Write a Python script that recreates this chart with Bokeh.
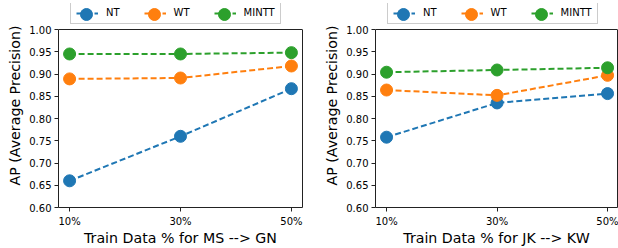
from bokeh.plotting import figure
from bokeh.layouts import row
from bokeh.models import Range1d, FixedTicker, Legend, LegendItem, LinearAxis, Span
from bokeh.embed import file_html
from bokeh.resources import INLINE

x_labels = ["10%", "30%", "50%"]
series = ["NT", "WT", "MINTT"]
colors = ["#1f77b4", "#ff7f0e", "#2ca02c"]
y_ticks = [0.60, 0.65, 0.70, 0.75, 0.80, 0.85, 0.90, 0.95, 1.00]
Y_MIN, Y_MAX = 0.60, 1.00

left_nt = [0.660, 0.760, 0.867]
left_wt = [0.889, 0.891, 0.918]
left_mintt = [0.945, 0.945, 0.948]

right_nt = [0.758, 0.835, 0.856]
right_wt = [0.864, 0.852, 0.897]
right_mintt = [0.904, 0.909, 0.914]

FONT = "DejaVu Sans"
AXC = "#222222"
FIG_H = 248
TOP, BOTTOM = 3, 41
PLOT_H = 178                      # pixel height of the 0.60-1.00 box
FRAME_H = FIG_H - TOP - BOTTOM    # frame also holds the legend strip
Y_TOP = Y_MIN + (Y_MAX - Y_MIN) * FRAME_H / PLOT_H
LEG_X = 12
LEG_BOTTOM = PLOT_H + 5
LEG_H = 20
GLYPH_CX = [16, 83.6, 153.6]      # legend glyph centres, from legend's left edge


def make_plot(values, xlabel, width, border_left, border_right, x_end):
    xs = list(range(len(x_labels)))
    p = figure(width=width, height=FIG_H, output_backend="svg", toolbar_location=None,
               x_range=Range1d(-0.1, x_end), y_range=Range1d(Y_MIN, Y_TOP),
               min_border_left=border_left, min_border_right=border_right,
               min_border_top=TOP, min_border_bottom=BOTTOM)
    p.outline_line_color = None
    p.xgrid.visible = False
    p.ygrid.visible = False
    p.background_fill_color = "white"
    p.border_fill_color = "white"

    items = []
    scatters = []
    for name, vals, col in zip(series, values, colors):
        l = p.line(xs, vals, line_color=col, line_width=2, line_dash="6 3")
        s = p.scatter(xs, vals, size=12, fill_color=col, line_color=col, marker="circle")
        items.append(LegendItem(label=name, renderers=[l]))
        scatters.append(s)

    # box edges: top span at 1.00 and a bare right axis
    p.add_layout(Span(location=Y_MAX, dimension="width", line_color=AXC, line_width=1))
    rax = LinearAxis(bounds=(Y_MIN, Y_MAX), ticker=FixedTicker(ticks=[]),
                     axis_line_color=AXC, major_tick_line_color=None,
                     minor_tick_line_color=None, major_label_text_font_size="0px")
    p.add_layout(rax, "right")

    p.xaxis[0].ticker = FixedTicker(ticks=xs)
    p.xaxis[0].major_label_overrides = {i: t for i, t in enumerate(x_labels)}
    yax = p.yaxis[0]
    yax.ticker = FixedTicker(ticks=y_ticks)
    yax.major_label_overrides = {t: f"{t:.2f}" for t in y_ticks}
    yax.bounds = (Y_MIN, Y_MAX)
    for ax in (p.xaxis[0], yax):
        ax.axis_line_color = AXC
        ax.major_tick_line_color = AXC
        ax.major_tick_in = 0
        ax.major_tick_out = 4
        ax.minor_tick_line_color = None
        ax.major_label_text_font = FONT
        ax.major_label_text_font_size = "10px"
        ax.major_label_text_color = "black"
        ax.axis_label_text_font = FONT
        ax.axis_label_text_font_size = "14.2px"
        ax.axis_label_text_font_style = "normal"
        ax.axis_label_text_color = "black"
        ax.major_label_standoff = 3
    p.xaxis[0].major_label_standoff = 4
    p.xaxis[0].axis_label = xlabel
    p.xaxis[0].axis_label_standoff = 0
    yax.axis_label = "AP (Average Precision)"
    yax.axis_label_standoff = 3

    legend = Legend(items=items, orientation="horizontal", location=(LEG_X, LEG_BOTTOM))
    legend.label_text_font = FONT
    legend.label_text_font_size = "10px"
    legend.label_text_color = "black"
    legend.padding = 5
    legend.spacing = 24
    legend.glyph_width = 22
    legend.glyph_height = 10
    legend.label_height = 10
    legend.label_width = 0
    legend.label_standoff = 8
    legend.margin = 0
    legend.border_line_color = "#cccccc"
    legend.border_line_alpha = 1.0
    legend.border_line_width = 1
    legend.background_fill_color = "white"
    legend.background_fill_alpha = 1.0
    p.add_layout(legend, "center")

    # full-size legend markers drawn over the legend's line glyphs
    cy = LEG_BOTTOM + LEG_H / 2
    for s, cx in zip(scatters, GLYPH_CX):
        ml = Legend(items=[LegendItem(label=" ", renderers=[s])],
                    location=(LEG_X + cx - 15, cy - 15))
        ml.glyph_width = 30
        ml.glyph_height = 30
        ml.padding = 0
        ml.margin = 0
        ml.label_standoff = 0
        ml.label_width = 0
        ml.label_height = 0
        ml.label_text_font_size = "1px"
        ml.border_line_color = None
        ml.background_fill_alpha = 0
        ml.inactive_fill_alpha = 0
        p.add_layout(ml, "center")
    return p


p1 = make_plot([left_nt, left_wt, left_mintt], "Train Data % for MS --> GN", 310, 58, 8, 2.1)
p2 = make_plot([right_nt, right_wt, right_mintt], "Train Data % for JK --> KW", 308, 65, 1, 2.09)

layout = row(p1, p2)
open("out.html", "w").write(file_html(layout, INLINE))
